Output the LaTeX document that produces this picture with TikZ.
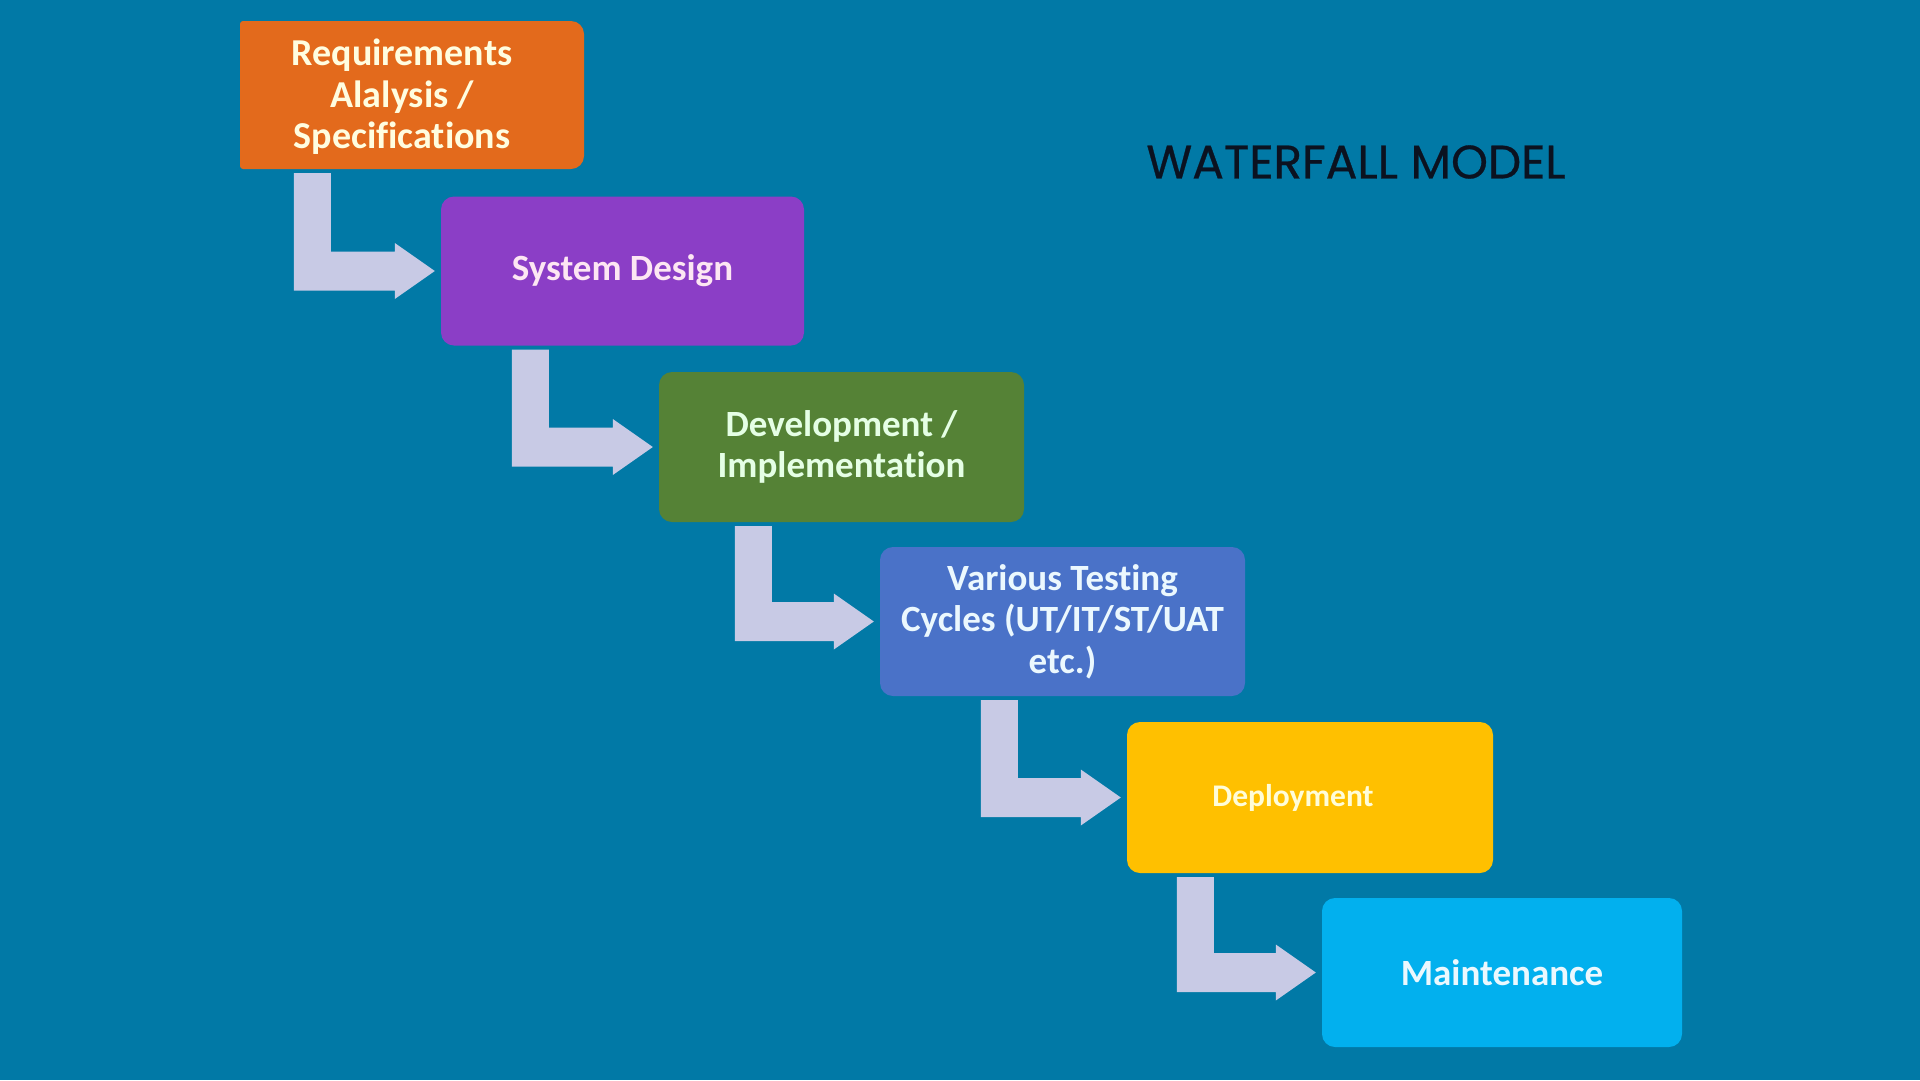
\documentclass[tikz,border=0pt]{standalone}
\usepackage{fontspec}
\setmainfont{Carlito}[Ligatures=NoCommon]
\newfontfamily\titlefont{Poppins}[FakeBold=0.6]
\usetikzlibrary{calc,backgrounds}
\definecolor{bgblue}{HTML}{0179A6}
\definecolor{cOrange}{HTML}{E36A1C}
\definecolor{cPurple}{HTML}{8B3EC6}
\definecolor{cGreen}{HTML}{558236}
\definecolor{cBlue}{HTML}{4A72C8}
\definecolor{cYellow}{HTML}{FFC000}
\definecolor{cCyan}{HTML}{02B0EE}
\definecolor{arrowcol}{HTML}{C8CAE5}
\definecolor{titlecol}{HTML}{0B1220}
\tikzset{
  phase/.style={rounded corners=13pt, minimum height=149pt, inner sep=0pt,
    align=center, font=\bfseries\fontsize{37}{41.6}\selectfont},
  phasetext/.style={align=center, inner sep=0pt, font=\bfseries\fontsize{37}{41.6}\selectfont},
  flowarrow/.style={fill=arrowcol}
}
\newcommand\waterarrow[3]{%
  \fill[flowarrow] let \p1=(#1.south west), \p2=(#2.west) in
    (\x1+#3pt, \y1-4pt) -- (\x1+#3pt+37pt, \y1-4pt) -- (\x1+#3pt+37pt, \y2+19.5pt)
    -- (\x2-46pt, \y2+19.5pt) -- (\x2-46pt, \y2+28pt) -- (\x2-6pt, \y2)
    -- (\x2-46pt, \y2-28pt) -- (\x2-46pt, \y2-19.5pt) -- (\x1+#3pt, \y2-19.5pt) -- cycle;}
\begin{document}
\begin{tikzpicture}[x=1pt,y=-1pt]
\useasboundingbox (0,0) rectangle (1920,1080);
\fill[bgblue] (0,0) rectangle (1920,1080);

% orange box: square-ish left corners, rounded right corners
\fill[cOrange, rounded corners=3pt] (240,169) -- (240,21) [rounded corners=13pt] -- (584,21) -- (584,169) [rounded corners=3pt] -- cycle;
\node[minimum width=344pt, minimum height=148pt, inner sep=0pt,
  label={[phasetext, text=white!88!yellow, font=\bfseries\fontsize{38}{41.6}\selectfont, xshift=-10pt, yshift=-2pt]center:{Requirements\\Alalysis /\\Specifications}}] (req) at (412,95) {};
\node[phase, fill=cPurple, text=white!90!magenta, minimum width=363pt] (sys) at (622.5,271)
  {System Design};
\node[phase, fill=cGreen, text=white!90!green, minimum width=365pt, minimum height=150pt] (dev) at (841.5,447)
  {Development /\\Implementation};
\node[phase, fill=cBlue, text=white!92!cyan, minimum width=365pt] (test) at (1062.5,621.5)
  {Various Testing\\Cycles (UT/IT/ST/UAT\\etc.)};
\node[phase, fill=cYellow, minimum width=366pt, minimum height=151pt,
  label={[phasetext, text=white!85!yellow, font=\bfseries\fontsize{31.5}{36}\selectfont, xshift=-17pt]center:Deployment}] (dep) at (1310,797.5) {};
\node[phase, fill=cCyan, text=white!92!cyan, minimum width=360pt] (mnt) at (1502,972.5)
  {Maintenance};

\waterarrow{req}{sys}{54}
\waterarrow{sys}{dev}{71}
\waterarrow{dev}{test}{76}
\waterarrow{test}{dep}{101}
\waterarrow{dep}{mnt}{50}

\node[text=titlecol, font=\titlefont\fontsize{47}{52}\selectfont, inner sep=0pt] (title) at (1356,162)
  {WATERFALL MODEL};
\end{tikzpicture}
\end{document}
